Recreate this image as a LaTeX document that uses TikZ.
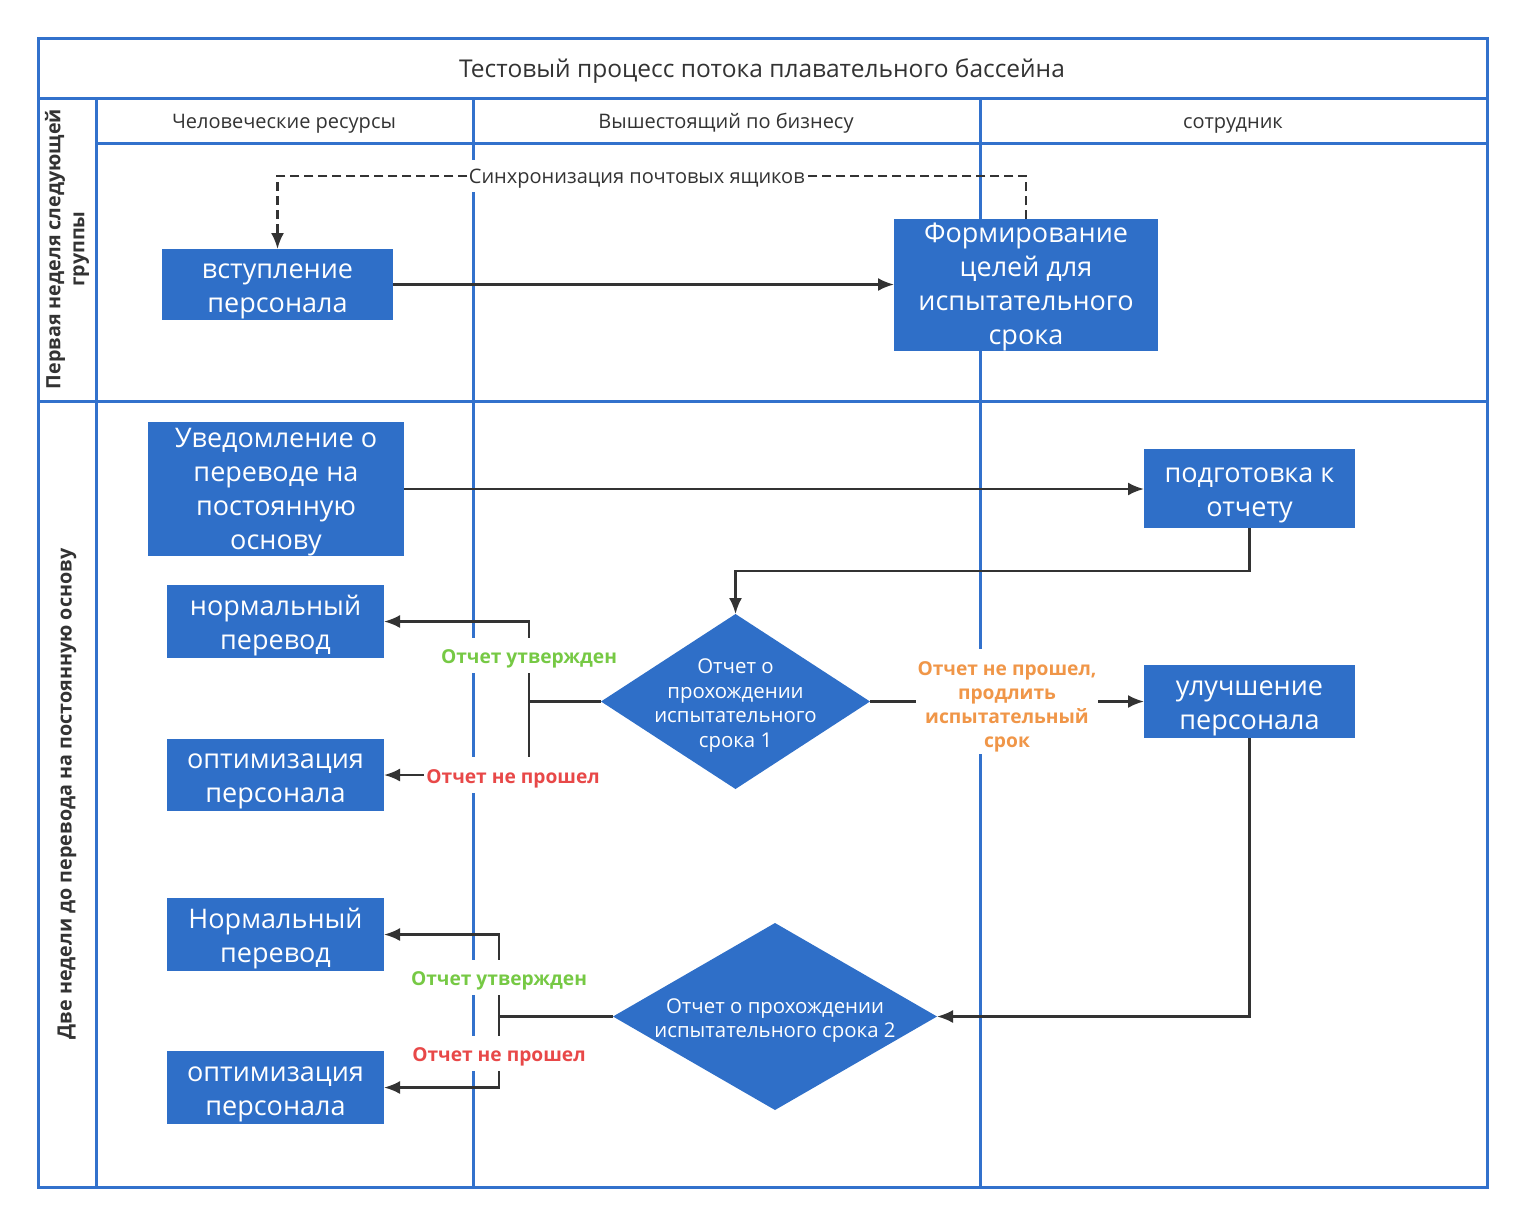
\documentclass[tikz,border=0pt]{standalone}
\usepackage{fontspec}
\setmainfont{Open Sans}
\usetikzlibrary{arrows.meta,positioning,shapes.geometric}
\definecolor{laneblue}{RGB}{50,113,204}
\definecolor{boxblue}{RGB}{47,111,200}
\definecolor{okgreen}{RGB}{118,201,68}
\definecolor{failred}{RGB}{232,72,72}
\definecolor{extorange}{RGB}{240,150,72}
\definecolor{linegray}{RGB}{51,51,51}

\begin{document}
\begin{tikzpicture}[x=1pt, y=-1pt,
    lane/.style={draw=laneblue, line width=3pt},
    caption/.style={text=linegray, font=\fontsize{20}{26}\selectfont,
      execute at begin node=\strut},
    lanename/.style={text=linegray, rotate=90, align=center,
      font=\bfseries\fontsize{19.7}{24}\selectfont},
    block/.style={fill=boxblue, text=white, inner sep=0pt, outer sep=0pt,
      align=center, font=\fontsize{27}{34}\selectfont},
    decision/.style={diamond, fill=boxblue, text=white, inner sep=-20pt,
      outer sep=0pt, align=center, font=\fontsize{20.4}{24.5}\selectfont},
    arrow/.style={-{Latex[length=16pt, width=13pt]}, draw=linegray, line width=2.4pt},
    note/.style={fill=white, inner sep=2pt, align=center,
      font=\bfseries\fontsize{19.2}{24}\selectfont}
  ]
    \useasboundingbox (0,0) rectangle (1524,1224);

    % pool and lanes
    \draw[lane] (38,38) rectangle (1487,1187);
    \draw[lane] (38,98) -- (1487,98);
    \draw[lane] (96,143) -- (1487,143);
    \draw[lane] (38,401) -- (1487,401);
    \draw[lane] (96,98) -- (96,1187);
    \draw[lane] (473,98) -- (473,1187);
    \draw[lane] (980,98) -- (980,1187);

    \node[caption, font=\fontsize{24.5}{30}\selectfont] (pooltitle) at (762,71) {Тестовый процесс потока плавательного бассейна};
    \node[caption] (hdrhr) at (284,123) {Человеческие ресурсы};
    \node[caption] (hdrboss) at (726,123) {Вышестоящий по бизнесу};
    \node[caption] (hdrstaff) at (1233,123) {сотрудник};
    \node[lanename] (lanefirst) at (67,249) {Первая неделя следующей\\группы};
    \node[lanename] (lanetwo) at (67,794) {Две недели до перевода на постоянную основу};

    % steps
    \node[block, minimum width=231pt, minimum height=71pt] (entry) at (277.5,284.5) {\rule{0pt}{28pt}вступление\\персонала};
    \node[block, minimum width=264pt, minimum height=130pt] (goals) at (1026,285) {\rule{0pt}{23pt}Формирование\\целей для\\испытательного\\срока};
    \node[block, minimum width=256pt, minimum height=134pt] (notice) at (276,489) {\rule{0pt}{26pt}Уведомление о\\переводе на\\постоянную\\основу};
    \node[block, minimum width=211pt, minimum height=79pt] (prepare) at (1249.5,488.5) {\rule{0pt}{28pt}подготовка к\\отчету};
    \node[block, minimum width=217pt, minimum height=73pt] (normone) at (275.5,621.5) {\rule{0pt}{28pt}нормальный\\перевод};
    \node[block, minimum width=217pt, minimum height=72pt] (optone) at (275.5,775) {\rule{0pt}{28pt}оптимизация\\персонала};
    \node[decision, shape aspect=1.54, minimum width=269pt, minimum height=175pt] (reviewone) at (735.5,701.5) {\rule{0pt}{22.7pt}Отчет о\\прохождении\\испытательного\\срока 1};
    \node[block, minimum width=211pt, minimum height=73pt] (improve) at (1249.5,701.5) {\rule{0pt}{28pt}улучшение\\персонала};
    \node[block, minimum width=217pt, minimum height=73pt] (normtwo) at (275.5,934.5) {\rule{0pt}{28pt}Нормальный\\перевод};
    \node[block, minimum width=217pt, minimum height=73pt] (opttwo) at (275.5,1087.5) {\rule{0pt}{28pt}оптимизация\\персонала};
    \node[decision, shape aspect=1.73, minimum width=324pt, minimum height=187pt] (reviewtwo) at (775,1016.5) {\rule{0pt}{22.7pt}Отчет о прохождении\\испытательного срока 2};

    \coordinate (syncturn) at (1026,176);
    \coordinate (splitone) at (529,701.5);
    \coordinate (splittwo) at (499,1016.5);

    % flows
    \draw[arrow, dash pattern=on 9pt off 5pt] (goals.north) -- (syncturn) -| node[caption, fill=white, inner sep=1pt, pos=0.26] (synclabel) {\rule{0pt}{22pt}Синхронизация почтовых ящиков} (entry.north);
    \draw[arrow] (entry.east) -- (entry.east -| goals.west);
    \draw[arrow] (notice.east) -- (notice.east -| prepare.west);
    \draw[arrow] (prepare.south) -- ++(0,43) -| (reviewone.north);
    \draw[arrow] (reviewone.west) -- (splitone) |- node[note, text=okgreen, pos=0.29] {\rule{0pt}{24pt}\strut Отчет утвержден} (normone.east);
    \draw[arrow] (splitone) |- node[note, text=failred, pos=0.555] {\rule{0pt}{24pt}\strut Отчет не прошел} (optone.east);
    \draw[arrow] (reviewone.east) -- node[note, text=extorange] {\rule{0pt}{24pt}Отчет не прошел,\\продлить\\испытательный\\срок} (improve.west);
    \draw[arrow] (improve.south) |- (reviewtwo.east);
    \draw[arrow] (reviewtwo.west) -- (splittwo) |- node[note, text=okgreen, pos=0.24] {\rule{0pt}{24pt}\strut Отчет утвержден} (normtwo.east);
    \draw[arrow] (splittwo) |- node[note, text=failred, pos=0.26] {\rule{0pt}{24pt}\strut Отчет не прошел} (opttwo.east);
  \end{tikzpicture}
\end{document}
